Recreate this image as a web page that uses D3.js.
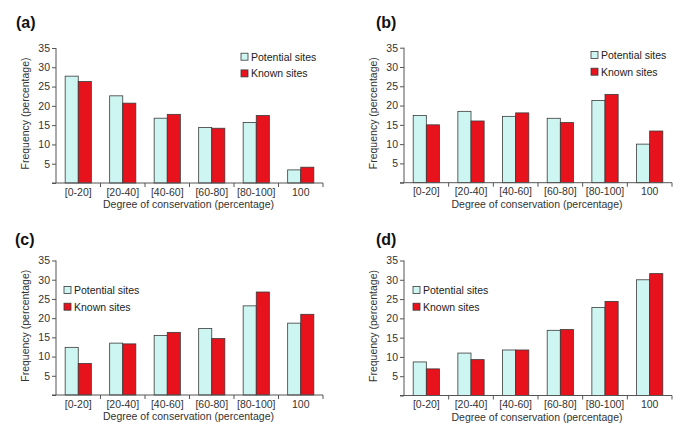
<!DOCTYPE html>
<html>
<head>
<meta charset="utf-8">
<script src="https://cdn.jsdelivr.net/npm/d3@7"></script>
<style>
  html, body { margin: 0; padding: 0; background: #fff; }
  svg { display: block; font-family: "Liberation Sans", Arial, sans-serif; }
</style>
</head>
<body>
<svg id="chart" width="685" height="435"></svg>
<script>
const categories = ["[0-20]", "[20-40]", "[40-60]", "[60-80]", "[80-100]", "100"];
const seriesNames = ["Potential sites", "Known sites"];
const yTickValues = [0, 5, 10, 15, 20, 25, 30, 35];

const potentialA = [27.7, 22.6, 16.8, 14.4, 15.7, 3.4];
const knownA     = [26.3, 20.7, 17.8, 14.2, 17.5, 4.1];
const potentialB = [17.4, 18.5, 17.2, 16.7, 21.3, 10.0];
const knownB     = [15.0, 16.0, 18.1, 15.6, 22.9, 13.4];
const potentialC = [12.4, 13.5, 15.5, 17.3, 23.2, 18.7];
const knownC     = [8.2, 13.3, 16.3, 14.7, 26.8, 21.0];
const potentialD = [8.7, 11.0, 11.8, 16.9, 22.8, 30.0];
const knownD     = [6.9, 9.3, 11.8, 17.1, 24.4, 31.6];

const panelLabels = ["(a)", "(b)", "(c)", "(d)"];
const xTitle = "Degree of conservation (percentage)";
const yTitle = "Frequency (percentage)";

const colors = ["#cdf5f1", "#e8121d"];

const panels = [
  { label: panelLabels[0], pot: potentialA, known: knownA, ox: 56, right: 323, top: 48, bottom: 183, lx: 241, ly: 56.7, labX: 16, labY: 28 },
  { label: panelLabels[1], pot: potentialB, known: knownB, ox: 404, right: 672, top: 47.7, bottom: 182.7, lx: 591, ly: 55, labX: 376, labY: 28 },
  { label: panelLabels[2], pot: potentialC, known: knownC, ox: 56, right: 323, top: 260.5, bottom: 395, lx: 64, ly: 290, labX: 15, labY: 245 },
  { label: panelLabels[3], pot: potentialD, known: knownD, ox: 404, right: 672, top: 260.5, bottom: 395.5, lx: 413, ly: 290, labX: 376, labY: 245 }
];

const svg = d3.select("#chart");

panels.forEach(p => {
  const g = svg.append("g");
  const x0 = d3.scaleBand().domain(categories).range([p.ox, p.right]).padding(0);
  const x1 = d3.scaleBand().domain(seriesNames).range([0, x0.bandwidth()]).paddingInner(0).paddingOuter(0.7);
  const y = d3.scaleLinear().domain([0, 35]).range([p.bottom, p.top]);

  // bars
  const rows = categories.map((c, i) => ({ cat: c, vals: [p.pot[i], p.known[i]] }));
  const grp = g.selectAll("g.cat").data(rows).join("g")
    .attr("transform", d => `translate(${x0(d.cat)},0)`);
  grp.selectAll("rect").data(d => d.vals.map((v, k) => ({ s: seriesNames[k], v, k })))
    .join("rect")
    .attr("x", d => x1(d.s))
    .attr("width", x1.bandwidth())
    .attr("y", d => y(d.v))
    .attr("height", d => y(0) - y(d.v))
    .attr("fill", d => colors[d.k])
    .attr("stroke", "#3a3a3a")
    .attr("stroke-width", 0.8);

  // y axis
  const yAxis = d3.axisLeft(y).tickValues(yTickValues).tickSize(4).tickPadding(2)
    .tickFormat(d => d === 0 ? "" : d);
  const ya = g.append("g").attr("transform", `translate(${p.ox},0)`).call(yAxis);
  ya.select(".domain").attr("stroke", "#555").attr("d", `M0,${p.top}V${p.bottom}`);
  ya.selectAll(".tick line").attr("stroke", "#555");
  ya.selectAll(".tick text").attr("fill", "#333").style("font-size", "10.5px")
    .style("font-family", "'Liberation Sans', Arial, sans-serif");

  // x axis
  const xa = g.append("g").attr("transform", `translate(0,${p.bottom})`);
  xa.append("path").attr("d", `M${p.ox - 4},0H${p.right}`).attr("stroke", "#555").attr("fill", "none");
  const boundaries = categories.map(c => x0(c) + x0.bandwidth());
  xa.selectAll("line.sep").data(boundaries).join("line")
    .attr("x1", d => d).attr("x2", d => d).attr("y1", 0).attr("y2", 4)
    .attr("stroke", "#555");
  xa.selectAll("text").data(categories).join("text")
    .attr("x", d => x0(d) + x0.bandwidth() / 2)
    .attr("y", 12.5)
    .attr("text-anchor", "middle")
    .attr("fill", "#333")
    .style("font-size", "10.5px")
    .text(d => d);

  // axis titles
  g.append("text")
    .attr("x", (p.ox + p.right) / 2 - 1)
    .attr("y", p.bottom + 25)
    .attr("text-anchor", "middle")
    .attr("fill", "#333")
    .style("font-size", "10.5px")
    .text(xTitle);
  g.append("text")
    .attr("transform", `translate(${p.ox - 27},${(p.top + p.bottom) / 2 - 2}) rotate(-90)`)
    .attr("text-anchor", "middle")
    .attr("fill", "#333")
    .style("font-size", "10.5px")
    .text(yTitle);

  // panel label
  g.append("text")
    .attr("x", p.labX).attr("y", p.labY)
    .attr("fill", "#111")
    .style("font-size", "16px").style("font-weight", "bold")
    .text(p.label);

  // legend
  const lg = g.append("g").attr("transform", `translate(${p.lx},${p.ly})`);
  const items = lg.selectAll("g").data(seriesNames).join("g")
    .attr("transform", (d, i) => `translate(0,${i * 16.7})`);
  items.append("rect").attr("x", 0).attr("y", -3.5).attr("width", 7).attr("height", 7)
    .attr("fill", (d, i) => colors[i]).attr("stroke", "#3a3a3a").attr("stroke-width", 0.8);
  items.append("text").attr("x", 10).attr("y", 3.8)
    .attr("fill", "#222").style("font-size", "10.5px").text(d => d);
});
</script>
</body>
</html>
